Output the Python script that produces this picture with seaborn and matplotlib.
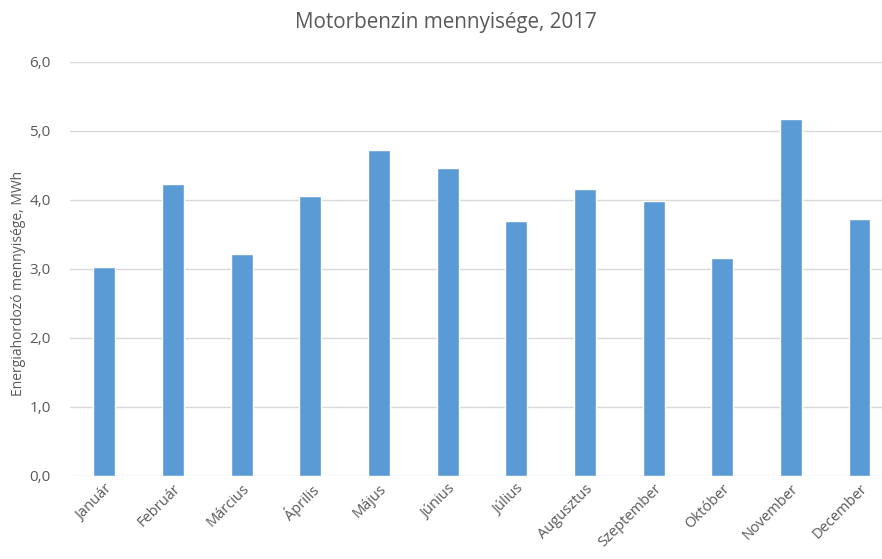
import matplotlib
matplotlib.use('Agg')
import matplotlib.pyplot as plt
import seaborn as sns
import pandas as pd

# Adatok (leolvasva az ábráról)
honapok = ['Január', 'Február', 'Március', 'Április', 'Május', 'Június',
           'Július', 'Augusztus', 'Szeptember', 'Október', 'November', 'December']
ertekek = [3.03, 4.23, 3.22, 4.06, 4.72, 4.46, 3.70, 4.16, 3.98, 3.16, 5.18, 3.72]
y_ticks = [0, 1, 2, 3, 4, 5, 6]

df = pd.DataFrame({'honap': honapok, 'ertek': ertekek})

sns.set_style('white')
plt.rcParams['font.family'] = ['Open Sans', 'DejaVu Sans']

fig = plt.figure(figsize=(8.82, 5.59), dpi=100)
ax = fig.add_axes([0.0794, 0.1485, 0.934, 0.7406])

sns.barplot(data=df, x='honap', y='ertek', color='#5b9bd5', saturation=1,
            width=0.32, ax=ax, zorder=3)

ax.set_ylim(0, 6)
ax.set_yticks(y_ticks)
ax.set_yticklabels([f'{v:.1f}'.replace('.', ',') for v in y_ticks])
ax.set_xlim(-0.5, len(honapok) - 0.5)

# Rácsvonalak
ax.yaxis.grid(True, color='#d9d9d9', linewidth=1, zorder=0)
for s in ax.spines.values():
    s.set_visible(False)
ax.tick_params(axis='both', length=0, colors='#595959')
ax.tick_params(axis='y', pad=14, labelsize=11)
ax.tick_params(axis='x', pad=4, labelsize=10.5)
plt.setp(ax.get_xticklabels(), rotation=45, ha='right', rotation_mode='anchor')

ax.set_xlabel('')
ax.set_ylabel('Energiahordozó mennyisége, MWh', color='#595959', fontsize=10)
ax.yaxis.set_label_coords(-0.053, 0.466)
fig.suptitle('Motorbenzin mennyisége, 2017', x=0.505, y=0.978, fontsize=14.9, color='#595959')

fig.savefig('out.png', dpi=100)
